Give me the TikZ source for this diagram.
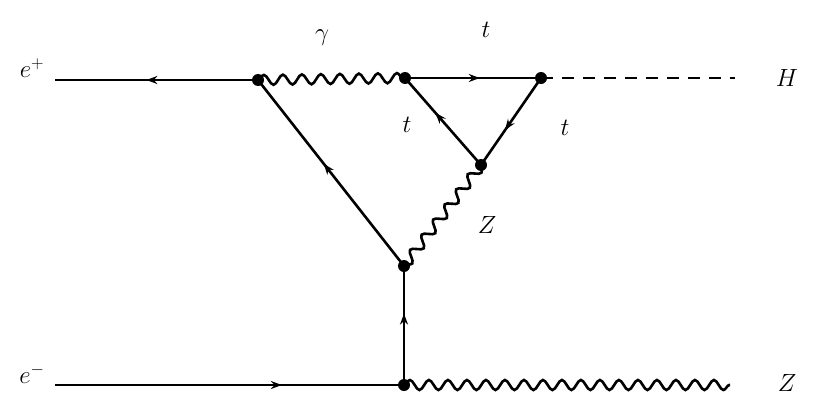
\documentclass[tikz,border=0pt]{standalone}
\usetikzlibrary{decorations.pathmorphing,decorations.markings,arrows.meta}
\begin{document}
\begin{tikzpicture}[x=1pt,y=-1pt,line width=2.6pt,
  fermion/.style={postaction={decorate},decoration={markings,mark=at position #1 with {\arrow{Stealth[length=11pt,width=8pt]}}}},
  fermion/.default=0.5,
  boson/.style={decorate,decoration={snake,segment length=19pt,amplitude=5pt}},
  scalar/.style={dash pattern=on 12pt off 9pt},
  vtx/.style={circle,fill=black,inner sep=0pt,minimum size=12pt},
  lbl/.style={font=\fontsize{26}{30}\selectfont}]
\useasboundingbox (0,0) rectangle (830,407);
\coordinate (ep) at (55,80);
\coordinate (em) at (55,385);
\coordinate (Hend) at (735,78);
\coordinate (Zend) at (730,385);
\node[vtx] (A) at (258,80) {};
\node[vtx] (B) at (405,78) {};
\node[vtx] (C) at (541,78) {};
\node[vtx] (D) at (481,165) {};
\node[vtx] (E) at (404,266) {};
\node[vtx] (F) at (404,385) {};
\draw[fermion=0.55] (A.center) -- (ep);
\draw[fermion=0.65] (em) -- (F.center);
\draw[boson] (A.center) -- (B.center);
\draw[fermion=0.55] (B.center) -- (C.center);
\draw[scalar] (C.center) -- (Hend);
\draw[fermion=0.6] (C.center) -- (D.center);
\draw[fermion=0.6] (D.center) -- (B.center);
\draw[fermion=0.55] (E.center) -- (A.center);
\draw[boson] (D.center) -- (E.center);
\draw[fermion=0.6] (F.center) -- (E.center);
\draw[boson] (F.center) -- (Zend);
\node[lbl] (lep) at (32,68) {$e^+$};
\node[lbl] (lem) at (32,374) {$e^-$};
\node[lbl] (lg) at (322,38) {$\gamma$};
\node[lbl] (lt1) at (486,30) {$t$};
\node[lbl] (lH) at (787,78) {$H$};
\node[lbl] (lt2) at (407,125) {$t$};
\node[lbl] (lt3) at (565,128) {$t$};
\node[lbl] (lZ1) at (487,225) {$Z$};
\node[lbl] (lZ2) at (787,383) {$Z$};
\end{tikzpicture}
\end{document}
